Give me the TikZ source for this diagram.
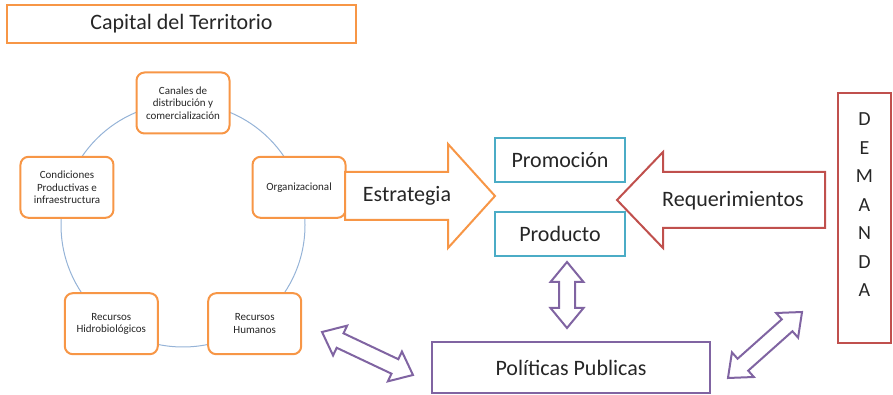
\documentclass[tikz,border=0pt]{standalone}
\usepackage{fontspec}
\setmainfont{Carlito}
\usetikzlibrary{positioning}

\begin{document}
\begin{tikzpicture}[x=1pt, y=1pt,
        every node/.style={text=gristexto},
        titulo/.style={draw=naranja, line width=2pt, minimum width=349pt, minimum height=38pt, font=\fontsize{22}{26}\selectfont},
        capbox/.style={draw=naranja, line width=2pt, fill=white, rounded corners=8pt,
            minimum width=93pt, minimum height=61pt, align=center, inner sep=1pt,
            font=\fontsize{11}{12.5}\selectfont},
        azulbox/.style={draw=azul, line width=2pt, minimum width=130pt, minimum height=44pt, font=\fontsize{22}{26}\selectfont},
        rojobox/.style={draw=rojo, line width=2pt, minimum width=53pt, minimum height=250pt},
        moradobox/.style={draw=morado, line width=2pt, minimum width=278pt, minimum height=51pt, font=\fontsize{22}{26}\selectfont},
        letras/.style={align=center, font=\fontsize{20}{28.5}\selectfont},
        rotulo/.style={font=\fontsize{22}{26}\selectfont},
        flechanaranja/.style={draw=naranja, line width=2pt, fill=white, line join=miter},
        flecharoja/.style={draw=rojo, line width=2pt, fill=white, line join=miter},
        circulo/.style={draw=celeste, line width=1pt}]

        \definecolor{naranja}{RGB}{247, 150, 70}
        \definecolor{azul}{RGB}{75, 172, 198}
        \definecolor{rojo}{RGB}{192, 80, 77}
        \definecolor{morado}{RGB}{128, 100, 162}
        \definecolor{celeste}{RGB}{149, 179, 215}
        \definecolor{gristexto}{RGB}{38, 38, 38}

        \newcommand\flechadoble[3]{%
            \begin{scope}[shift={#1}, rotate=#2]
                \draw[morado, line width=2pt, fill=white, line join=miter]
                    (-#3,0) -- (-#3+20,16.5) -- (-#3+20,8) -- (#3-20,8) -- (#3-20,16.5) -- (#3,0)
                    -- (#3-20,-16.5) -- (#3-20,-8) -- (-#3+20,-8) -- (-#3+20,-16.5) -- cycle;
            \end{scope}}

        \useasboundingbox (0,0) rectangle (893,395);

        \node[titulo] (capital) at (181.5,371) {Capital del Territorio};

        \draw[circulo] (183,170) circle [radius=122pt];

        \node[capbox] (canales) at ([shift={(183,170)}]90:122) {Canales de\\distribución y\\comercialización};
        \node[capbox] (organizacional) at ([shift={(183,170)}]18:122) {Organizacional};
        \node[capbox] (humanos) at ([shift={(183,170)}]-54:122) {Recursos\\Humanos};
        \node[capbox] (hidro) at ([shift={(183,170)}]234:122) {Recursos\\Hidrobiológicos};
        \node[capbox] (condiciones) at ([shift={(183,170)}]162:122) {Condiciones\\Productivas e\\infraestructura};

        \node[azulbox] (promocion) at (560,235) {Promoción};
        \node[azulbox] (producto) [below=28pt of promocion] {Producto};

        \node[rojobox] (demanda) at (864.5,177) {};
        \node[letras] at ([yshift=13pt]demanda.center) {D\\E\\M\\A\\N\\D\\A};

        \node[moradobox] (politicas) at (571,27.5) {Políticas Publicas};

        % flechas grandes
        \draw[flechanaranja] (345,175) -- (448,175) -- (448,147) -- (495,199)
            -- (448,251) -- (448,223) -- (345,223) -- cycle;
        \node[rotulo] (estrategia) at (407,199) {Estrategia};

        \draw[flecharoja] (825,167) -- (663,167) -- (663,147) -- (617,195)
            -- (663,243) -- (663,223) -- (825,223) -- cycle;
        \node[rotulo] (requerimientos) at (733,194) {Requerimientos};

        % flechas dobles
        \flechadoble{(567,100)}{90}{33}
        \flechadoble{(367.5,41.5)}{-25.3}{50.3}
        \flechadoble{(765,50)}{41.7}{49.6}

\end{tikzpicture}
\end{document}
